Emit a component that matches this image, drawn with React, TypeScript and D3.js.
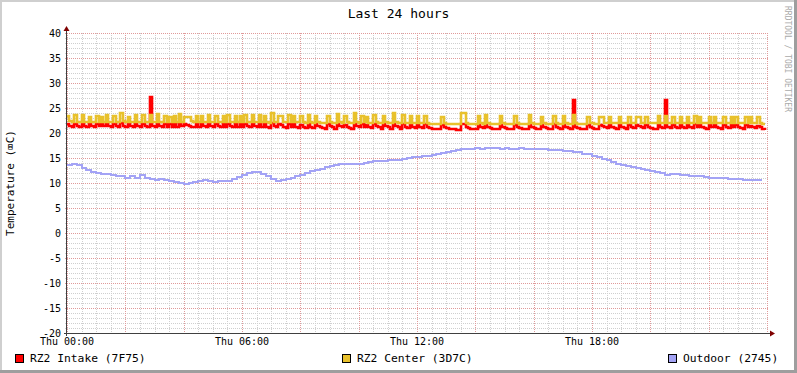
import React from 'react';
import * as d3 from 'd3';

// 5 minute samples, Thu 00:00 .. 23:55
const intake = [
  21.8, 21.5, 21.3, 21.8, 21.5, 21.2, 21.8, 21.5, 21.2, 21.7, 21.4, 21.2, 21.7, 21.4, 21.7, 21.4,
  21.8, 21.4, 21.2, 21.7, 21.4, 21.1, 21.9, 21.5, 21.2, 21.7, 21.4, 21.1, 21.8, 21.4, 21.1, 21.8,
  21.4, 21.2, 27.3, 21.5, 21.2, 21.8, 21.4, 21.1, 21.7, 21.3, 21.7, 21.3, 21.7, 21.3, 21.8, 21.4,
  21.7, 21.6, 21.5, 21.3, 21.1, 21.7, 21.3, 21.7, 21.4, 21.1, 21.8, 21.4, 21.1, 21.7, 21.4, 21.1,
  21.7, 21.3, 21.8, 21.4, 21.1, 21.7, 21.3, 21.7, 21.3, 21.8, 21.4, 21.1, 21.8, 21.4, 21.1, 21.7,
  21.3, 21.7, 21.3, 21.0, 21.9, 21.4, 21.1, 21.7, 21.6, 21.3, 21.0, 21.7, 21.3, 21.7, 21.3, 21.0,
  21.6, 21.3, 21.0, 21.7, 21.3, 21.0, 21.7, 21.4, 21.2, 21.0, 20.9, 21.7, 21.4, 21.1, 20.9, 21.8,
  21.4, 21.1, 21.6, 21.3, 21.0, 20.9, 21.8, 21.4, 21.1, 21.7, 21.3, 21.6, 21.2, 21.0, 21.7, 21.4,
  21.1, 20.9, 21.7, 21.4, 21.1, 20.9, 21.9, 21.4, 21.1, 20.9, 21.7, 21.3, 21.0, 21.7, 21.3, 21.0,
  21.7, 21.3, 21.0, 21.7, 21.3, 21.0, 20.9, 20.8, 20.8, 20.8, 21.6, 21.3, 21.0, 20.9, 20.8, 20.8,
  20.7, 20.7, 21.8, 21.7, 21.3, 21.0, 20.9, 20.8, 20.8, 21.6, 21.2, 21.0, 21.7, 21.3, 21.0, 20.9,
  20.8, 20.8, 21.7, 21.3, 21.0, 20.9, 20.8, 20.8, 21.6, 21.2, 21.0, 20.9, 20.8, 20.8, 21.7, 21.3,
  21.0, 20.9, 20.8, 21.6, 21.2, 21.0, 20.9, 20.8, 21.7, 21.3, 21.0, 20.9, 21.6, 21.2, 21.0, 20.9,
  26.6, 21.3, 21.0, 20.9, 20.8, 20.8, 21.6, 21.2, 21.0, 20.9, 20.9, 21.6, 21.5, 21.2, 21.0, 21.6,
  21.3, 21.0, 20.9, 21.6, 21.3, 21.0, 20.9, 21.6, 21.2, 21.0, 21.6, 21.5, 21.2, 21.0, 21.6, 21.3,
  21.0, 20.9, 20.9, 21.7, 21.3, 21.0, 26.6, 21.3, 21.0, 21.6, 21.3, 21.0, 21.6, 21.3, 21.0, 21.6,
  21.3, 21.0, 21.7, 21.3, 21.6, 21.3, 21.0, 20.9, 21.6, 21.3, 21.6, 21.3, 21.0, 20.9, 21.6, 21.3,
  21.0, 21.6, 21.3, 21.6, 21.2, 21.0, 20.9, 21.6, 21.3, 21.5, 21.2, 21.0, 21.5, 21.1, 20.8, 20.7,
];

const center = [
  23.4, 22.4, 22.3, 23.6, 22.3, 22.2, 23.6, 22.3, 22.2, 23.3, 22.3, 22.2, 23.4, 22.3, 23.3, 22.2,
  23.6, 22.3, 22.2, 23.5, 22.3, 22.2, 23.9, 22.4, 22.3, 23.3, 22.3, 22.2, 23.6, 22.3, 22.2, 23.6,
  22.3, 22.3, 23.6, 22.3, 22.2, 23.8, 22.3, 22.2, 23.5, 22.3, 23.3, 22.3, 23.4, 22.2, 23.7, 22.3,
  23.3, 23.3, 23.3, 22.4, 22.3, 23.5, 22.3, 23.4, 22.3, 22.2, 23.6, 22.3, 22.2, 23.5, 22.3, 22.2,
  23.4, 22.3, 23.6, 22.3, 22.2, 23.5, 22.3, 23.5, 22.2, 23.6, 22.3, 22.2, 23.6, 22.3, 22.2, 23.6,
  22.3, 23.4, 22.2, 22.1, 23.9, 22.3, 22.2, 23.5, 23.5, 22.3, 22.2, 23.6, 22.2, 23.5, 22.3, 22.2,
  23.4, 22.2, 22.1, 23.6, 22.2, 22.1, 23.5, 22.2, 22.1, 22.1, 22.0, 23.5, 22.2, 22.1, 22.1, 23.7,
  22.2, 22.1, 23.4, 22.2, 22.1, 22.1, 23.9, 22.2, 22.1, 23.5, 22.2, 23.3, 22.1, 22.1, 23.6, 22.2,
  22.1, 22.1, 23.5, 22.2, 22.1, 22.1, 24.1, 22.2, 22.1, 22.0, 23.6, 22.1, 22.0, 23.5, 22.1, 22.0,
  23.5, 22.0, 21.9, 23.5, 21.9, 21.8, 21.8, 21.8, 21.8, 21.7, 23.3, 21.9, 21.8, 21.8, 21.8, 21.7,
  21.7, 21.7, 24.0, 24.0, 21.9, 21.8, 21.8, 21.8, 21.7, 23.4, 21.9, 21.8, 23.6, 21.9, 21.8, 21.8,
  21.7, 21.7, 23.5, 21.9, 21.8, 21.8, 21.8, 21.7, 23.4, 21.9, 21.8, 21.8, 21.7, 21.7, 23.6, 21.9,
  21.8, 21.8, 21.7, 23.3, 21.9, 21.8, 21.8, 21.7, 23.5, 21.9, 21.8, 21.7, 23.4, 21.9, 21.8, 21.8,
  23.6, 21.9, 21.8, 21.8, 21.7, 21.7, 23.3, 21.9, 21.9, 21.8, 21.8, 23.3, 23.3, 21.9, 21.9, 23.3,
  22.0, 21.9, 21.9, 23.3, 22.0, 21.9, 21.9, 23.2, 22.0, 21.9, 23.3, 23.3, 22.0, 21.9, 23.3, 22.0,
  21.9, 21.9, 21.9, 23.4, 22.0, 21.9, 23.4, 22.0, 21.9, 23.3, 22.0, 21.9, 23.3, 22.0, 21.9, 23.3,
  22.0, 21.9, 23.4, 22.0, 23.3, 22.0, 21.9, 21.9, 23.3, 22.0, 23.3, 22.0, 21.9, 21.9, 23.3, 22.0,
  21.9, 23.3, 22.0, 23.3, 21.9, 21.9, 21.9, 23.3, 22.0, 23.2, 21.9, 21.9, 23.2, 21.9, 21.8, 21.7,
];

// 10 minute samples
const outdoor = [
  13.6, 13.8, 13.6, 13.1, 12.7, 12.3, 12.1, 11.9, 11.8, 11.6, 11.4, 11.3, 11.1, 11.3, 11.1, 11.5,
  11.1, 10.8, 10.6, 10.9, 10.7, 10.5, 10.3, 10.1, 9.9, 10.0, 10.2, 10.4, 10.6, 10.4, 10.3, 10.4,
  10.5, 10.5, 10.8, 11.2, 11.6, 12.0, 12.3, 12.2, 11.8, 11.3, 10.9, 10.5, 10.6, 10.9, 11.1, 11.3,
  11.7, 12.0, 12.4, 12.7, 12.9, 13.2, 13.4, 13.6, 13.8, 13.8, 13.8, 13.8, 13.9, 14.1, 14.3, 14.4,
  14.5, 14.5, 14.6, 14.7, 14.7, 14.8, 15.0, 15.1, 15.3, 15.4, 15.5, 15.6, 15.8, 16.0, 16.1, 16.4,
  16.6, 16.8, 16.9, 16.9, 17.0, 16.9, 17.0, 17.0, 17.0, 16.9, 17.0, 16.9, 16.9, 17.0, 16.9, 16.9,
  16.8, 16.9, 16.8, 16.6, 16.7, 16.6, 16.5, 16.4, 16.3, 16.1, 15.9, 15.7, 15.5, 15.2, 14.9, 14.6,
  14.2, 13.9, 13.6, 13.4, 13.2, 13.0, 12.9, 12.7, 12.5, 12.3, 12.0, 11.7, 11.9, 11.8, 11.7, 11.6,
  11.4, 11.3, 11.3, 11.2, 11.1, 11.1, 11.0, 11.0, 10.9, 10.9, 10.8, 10.6, 10.6, 10.7, 10.6, 10.6,
];

const seriesNames = ['RZ2 Intake (7F75)', 'RZ2 Center (3D7C)', 'Outdoor (2745)'];
const yTicks = [40, 35, 30, 25, 20, 15, 10, 5, 0, -5, -10, -15, -20];
const xLabels = ['Thu 00:00', 'Thu 06:00', 'Thu 12:00', 'Thu 18:00'];
const xLabelHours = [0, 6, 12, 18];
const title = 'Last 24 hours';
const yTitle = 'Temperature (⌧C)';
const watermark = 'RRDTOOL / TOBI OETIKER';

const W = 797;
const H = 373;
const left = 67;
const right = 767;
const top = 33;
const bottom = 333;
const colors = ['#ff0000', '#e8c12c', '#a3a3f5'];
const font = '"DejaVu Sans Mono", monospace';

export default function App() {
  const x = d3.scaleLinear().domain([0, 1440]).range([left, right]);
  const y = d3.scaleLinear().domain([-20, 40]).range([bottom, top]);

  const line5 = d3.line<number>()
    .x((d, i) => Math.round(x(i * 5)))
    .y(d => Math.round(y(d)))
    .curve(d3.curveStepAfter);
  const line10 = d3.line<number>()
    .x((d, i) => Math.round(x(i * 10)))
    .y(d => Math.round(y(d)))
    .curve(d3.curveStepAfter);

  const minorY = d3.range(-20, 41).filter(v => v % 5 !== 0);
  const majorY = d3.range(-20, 41, 5);
  const minorX = d3.range(0, 1441, 30).filter(m => m % 120 !== 0);
  const majorX = d3.range(0, 1441, 120);
  const px = (v: number) => Math.round(v) + 0.5;

  const legendX = [15, 342, 668];
  const axisY = px(y(-20));
  const axisX = px(left - 1);

  return (
    <svg width={W} height={H} style={{ position: 'absolute', left: 0, top: 0, background: '#fff' }}>
      <rect x={0} y={0} width={W} height={H} fill="#fff" />
      {/* frame shading */}
      <rect x={0} y={0} width={W} height={2} fill="#cfcfcf" />
      <rect x={0} y={0} width={2} height={H} fill="#cfcfcf" />
      <rect x={W - 3} y={0} width={3} height={H} fill="#9e9e9e" />
      <rect x={0} y={H - 3} width={W} height={3} fill="#9e9e9e" />

      <text x={W / 2} y={18} textAnchor="middle" fontFamily={font} fontSize={13} fill="#000">{title}</text>
      <text transform={`translate(785,6) rotate(90)`} fontFamily={font} fontSize={8} fill="#aaa">{watermark}</text>
      <text transform={`translate(14,${(top + bottom) / 2}) rotate(-90)`} textAnchor="middle" fontFamily={font} fontSize={11} fill="#000">{yTitle}</text>

      <g shapeRendering="crispEdges">
        {minorY.map(v => (
          <line key={'my' + v} x1={left - 2} x2={right + 2} y1={px(y(v))} y2={px(y(v))} stroke="#cfcfcf" strokeDasharray="1,1" />
        ))}
        {minorX.map(m => (
          <line key={'mx' + m} x1={px(x(m))} x2={px(x(m))} y1={top} y2={bottom + 2} stroke="#cfcfcf" strokeDasharray="1,1" />
        ))}
        {majorY.map(v => (
          <line key={'My' + v} x1={left - 2} x2={right + 2} y1={px(y(v))} y2={px(y(v))} stroke="#e09a9a" strokeDasharray="1,1" />
        ))}
        {majorX.map(m => (
          <line key={'Mx' + m} x1={px(x(m))} x2={px(x(m))} y1={top} y2={bottom + 2} stroke="#e09a9a" strokeDasharray="1,1" />
        ))}
      </g>

      {yTicks.map(v => (
        <text key={'yt' + v} x={61} y={y(v) + 3.5} textAnchor="end" fontFamily={font} fontSize={10} fill="#000">{v}</text>
      ))}
      {xLabels.map((l, i) => (
        <text key={l} x={x(xLabelHours[i] * 60)} y={345} textAnchor="middle" fontFamily={font} fontSize={10} fill="#000">{l}</text>
      ))}

      <g fill="none" strokeLinejoin="miter">
        <path d={line5(intake) ?? ''} stroke={colors[0]} strokeWidth={2.6} />
        <path d={line5(center) ?? ''} stroke={colors[1]} strokeWidth={2.6} />
        <path d={line10(outdoor) ?? ''} stroke={colors[2]} strokeWidth={2} shapeRendering="crispEdges" />
      </g>

      {/* axes */}
      <g shapeRendering="crispEdges">
        <line x1={64} x2={770} y1={axisY} y2={axisY} stroke="#404040" />
        <line x1={axisX} x2={axisX} y1={bottom + 3} y2={30} stroke="#404040" />
      </g>
      <path d={`M770,${axisY - 3}L775,${axisY}L770,${axisY + 3}Z`} fill="#7f0000" />
      <path d={`M${axisX - 3},31L${axisX},26L${axisX + 3},31Z`} fill="#7f0000" />

      {seriesNames.map((n, i) => (
        <g key={n}>
          <rect x={legendX[i] + 0.5} y={354.5} width={8} height={8} fill={colors[i]} stroke="#000" />
          <text x={legendX[i] + 15} y={362} fontFamily={font} fontSize={11.3} fill="#000">{n}</text>
        </g>
      ))}
    </svg>
  );
}
